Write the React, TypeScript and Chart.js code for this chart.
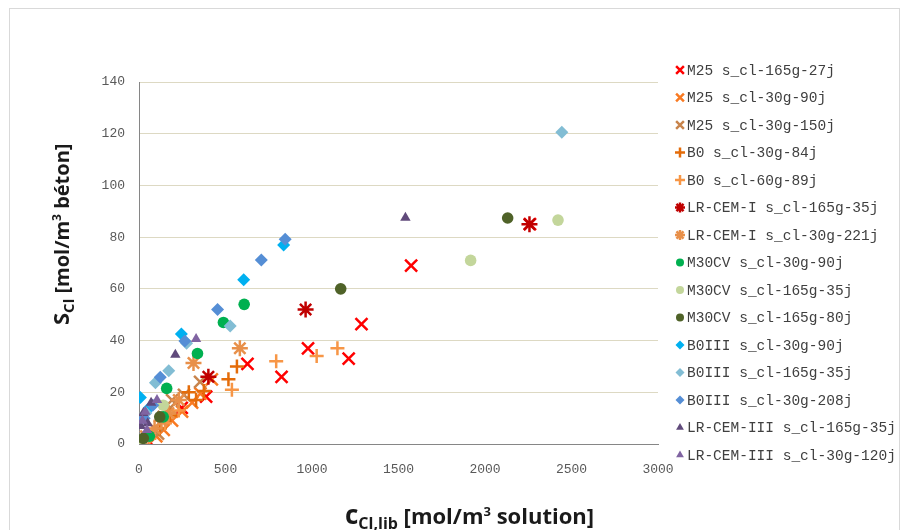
import React, { useEffect, useRef } from 'react';
import { Chart, registerables } from 'chart.js';
import { drawPoint } from 'chart.js/helpers';

Chart.register(...registerables);

// ---- axis ticks ----
const xTickValues = [0, 500, 1000, 1500, 2000, 2500, 3000];
const yTickValues = [0, 20, 40, 60, 80, 100, 120, 140];

// ---- series labels ----
const seriesLabels = [
  'M25 s_cl-165g-27j',
  'M25 s_cl-30g-90j',
  'M25 s_cl-30g-150j',
  'B0 s_cl-30g-84j',
  'B0 s_cl-60g-89j',
  'LR-CEM-I s_cl-165g-35j',
  'LR-CEM-I s_cl-30g-221j',
  'M30CV s_cl-30g-90j',
  'M30CV s_cl-165g-35j',
  'M30CV s_cl-165g-80j',
  'B0III s_cl-30g-90j',
  'B0III s_cl-165g-35j',
  'B0III s_cl-30g-208j',
  'LR-CEM-III s_cl-165g-35j',
  'LR-CEM-III s_cl-30g-120j',
];

// ---- series values [c_Cl,lib, S_Cl] ----
const m25_165g_27j = [[64, 0.5], [247, 14], [388, 18.3], [627, 31], [824, 26], [977, 37], [1212, 33], [1286, 46.4], [1573, 69], [2260, 85]];
const m25_30g_90j = [[100, 3], [143, 5.5], [191, 9], [249, 12.5], [307, 16], [355, 19.5], [421, 25]];
const m25_30g_150j = [[110, 4], [143, 10.5], [180, 14], [191, 17], [260, 19], [353, 24]];
const b0_30g_84j = [[120, 6], [180, 11], [288, 20], [330, 17], [375, 20.5], [517, 25], [566, 30]];
const b0_60g_89j = [[60, 2], [150, 8], [230, 13], [537, 21], [793, 32], [1027, 34], [1147, 37]];
const lrcemI_165g_35j = [[401, 26], [963, 52], [2257, 85]];
const lrcemI_30g_221j = [[40, 3], [90, 6], [130, 9], [170, 12], [230, 17], [315, 31.3], [583, 37]];
const m30cv_30g_90j = [[60, 3], [140, 10.5], [160, 21.5], [338, 35], [488, 47], [608, 54]];
const m30cv_165g_35j = [[15, 1.5], [140, 15], [1917, 71], [2422, 86.6]];
const m30cv_165g_80j = [[25, 2.2], [120, 10.5], [1166, 60], [2131, 87.4]];
const b0III_30g_90j = [[8, 18], [60, 14], [245, 42.5], [605, 63.5], [836, 77]];
const b0III_165g_35j = [[40, 12], [95, 23.7], [172, 28.3], [275, 39], [527, 45.6], [2444, 120.6]];
const b0III_30g_208j = [[30, 10], [80, 15], [123, 25.8], [265, 39.8], [454, 52], [707, 71.2], [845, 79.2]];
const lrcemIII_165g_35j = [[10, 7], [25, 12], [50, 8], [70, 16], [210, 34.5], [1540, 87.5]];
const lrcemIII_30g_120j = [[20, 9], [37, 12.5], [46, 5.4], [104, 17], [330, 40.6]];

const seriesData = [
  m25_165g_27j, m25_30g_90j, m25_30g_150j, b0_30g_84j, b0_60g_89j,
  lrcemI_165g_35j, lrcemI_30g_221j, m30cv_30g_90j, m30cv_165g_35j, m30cv_165g_80j,
  b0III_30g_90j, b0III_165g_35j, b0III_30g_208j, lrcemIII_165g_35j, lrcemIII_30g_120j,
];

const seriesColors = [
  '#FF0000', '#F97A22', '#C8844C', '#E46C0A', '#F79646',
  '#C00000', '#E8904A', '#00B050', '#C3D69B', '#4F6228',
  '#00B0F0', '#82BDD4', '#558ED5', '#604A7B', '#8064A2',
];

const seriesShapes = [
  'crossRot', 'crossRot', 'crossRot', 'cross', 'cross',
  'star', 'star', 'circle', 'circle', 'circle',
  'rectRot', 'rectRot', 'rectRot', 'triangle', 'triangle',
];

const shapeRadius: Record<string, number> = { crossRot: 8.5, cross: 7, star: 8, circle: 5.8, rectRot: 6.5, triangle: 6 };
const legendRadius: Record<string, number> = { crossRot: 5.5, cross: 5, star: 5, circle: 4, rectRot: 4.5, triangle: 4.5 };
const isLine = (s: string) => s === 'crossRot' || s === 'cross' || s === 'star';

const TITLE_FONT = '"Open Sans", Lato, sans-serif';

function drawRich(ctx: CanvasRenderingContext2D, parts: { t: string; size: number; dy: number }[], x: number, y: number) {
  let cx = x;
  for (const p of parts) {
    ctx.font = `bold ${p.size}px ${TITLE_FONT}`;
    ctx.fillText(p.t, cx, y + p.dy);
    cx += ctx.measureText(p.t).width;
  }
}

const extrasPlugin = {
  id: 'extras',
  afterDraw(chart: any) {
    const ctx: CanvasRenderingContext2D = chart.ctx;
    ctx.save();
    // legend
    const x0 = 670, y0 = 61, step = 27.5;
    chart.data.datasets.forEach((ds: any, i: number) => {
      const y = y0 + i * step;
      const shape = ds.pointStyle;
      ctx.fillStyle = ds.pointBackgroundColor;
      ctx.strokeStyle = ds.pointBorderColor;
      ctx.lineWidth = isLine(shape) ? 2.5 : 1;
      drawPoint(ctx, { pointStyle: shape, radius: legendRadius[shape], borderWidth: isLine(shape) ? 2.5 : 0, rotation: 0 } as any, x0, y);
      ctx.fillStyle = '#404040';
      ctx.font = '14.5px "Liberation Mono", monospace';
      ctx.textAlign = 'left';
      ctx.textBaseline = 'middle';
      ctx.fillText(ds.label, x0 + 7, y + 1);
    });
    // axis titles
    ctx.fillStyle = '#1a1a1a';
    ctx.textAlign = 'left';
    ctx.textBaseline = 'alphabetic';
    drawRich(ctx, [
      { t: 'c', size: 26, dy: 0 },
      { t: 'Cl,lib', size: 16, dy: 5 },
      { t: ' [mol/m', size: 22, dy: 0 },
      { t: '3', size: 13, dy: -8 },
      { t: ' solution]', size: 22, dy: 0 },
    ], 335, 515);
    ctx.translate(59, 316);
    ctx.rotate(-Math.PI / 2);
    drawRich(ctx, [
      { t: 'S', size: 22, dy: 0 },
      { t: 'Cl', size: 15, dy: 5 },
      { t: ' [mol/m', size: 20, dy: 0 },
      { t: '3', size: 12, dy: -8 },
      { t: ' béton]', size: 20, dy: 0 },
    ], 0, 0);
    ctx.restore();
  },
};

export default function App() {
  const ref = useRef<HTMLCanvasElement | null>(null);
  useEffect(() => {
    if (!ref.current) return;
    const n = seriesLabels.length;
    const datasets = seriesLabels.map((label, i) => {
      const shape = seriesShapes[i];
      return {
        label,
        data: seriesData[i].map(([x, y]) => ({ x, y })),
        pointStyle: shape,
        pointRadius: shapeRadius[shape],
        pointBackgroundColor: seriesColors[i],
        pointBorderColor: seriesColors[i],
        pointBorderWidth: isLine(shape) ? 2.5 : 0,
        showLine: false,
        order: n - i,
      };
    });
    const chart = new Chart(ref.current, {
      type: 'scatter',
      data: { datasets: datasets as any },
      options: {
        responsive: false,
        animation: false,
        layout: { padding: { top: 73, right: 241, left: 0, bottom: 0 } },
        plugins: { legend: { display: false }, tooltip: { enabled: false } },
        scales: {
          x: {
            type: 'linear',
            min: xTickValues[0],
            max: xTickValues[xTickValues.length - 1],
            afterBuildTicks: (s: any) => { s.ticks = xTickValues.map((v) => ({ value: v })); },
            ticks: { padding: 18, color: '#595959', font: { family: '"Liberation Mono", monospace', size: 13 }, maxRotation: 0, callback: (v: any) => String(v) },
            grid: { display: false, drawTicks: false },
            border: { display: true, color: '#868686', width: 1 },
            afterFit: (s: any) => { s.height = 103; },
          },
          y: {
            type: 'linear',
            min: yTickValues[0],
            max: yTickValues[yTickValues.length - 1],
            afterBuildTicks: (s: any) => { s.ticks = yTickValues.map((v) => ({ value: v })); },
            ticks: { padding: 14, color: '#595959', font: { family: '"Liberation Mono", monospace', size: 13 }, callback: (v: any) => String(v) },
            grid: {
              drawTicks: false,
              color: (c: any) => (c.tick && c.tick.value === 0 ? 'rgba(0,0,0,0)' : '#DDD9C3'),
            },
            border: { display: true, color: '#868686', width: 1 },
            afterFit: (s: any) => { s.width = 129; },
          },
        },
      },
      plugins: [extrasPlugin],
    });
    return () => chart.destroy();
  }, []);

  return (
    <>
      <style>{'html,body{overflow:hidden}'}</style>
      <div
        style={{
          position: 'absolute',
          left: 9,
          top: 8,
          width: 891,
          height: 540,
          border: '1px solid #D9D9D9',
          boxSizing: 'border-box',
          background: '#fff',
        }}
      >
        <canvas ref={ref} width={889} height={538} style={{ display: 'block', width: 889, height: 538 }} />
      </div>
    </>
  );
}
